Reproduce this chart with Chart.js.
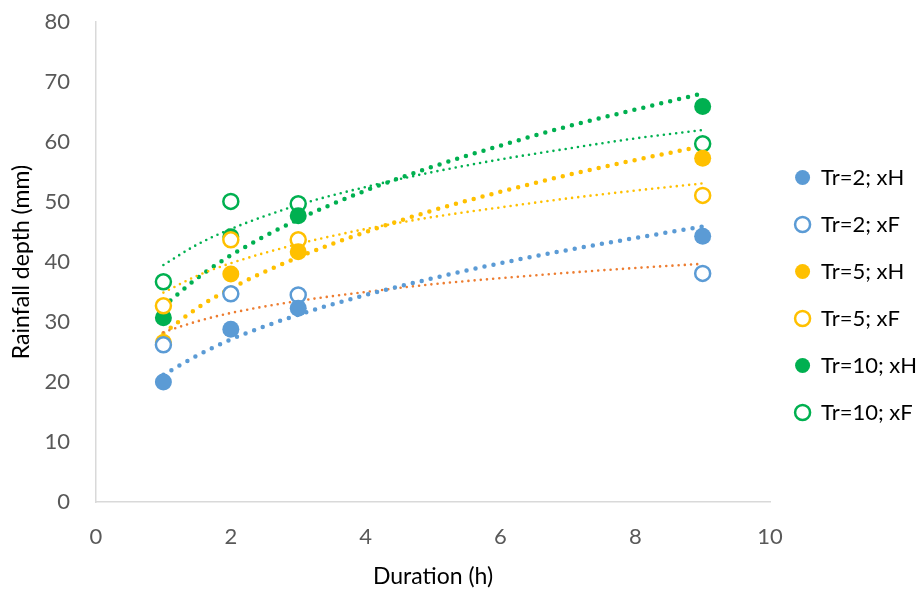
<!DOCTYPE html>
<html>
<head>
<meta charset="utf-8">
<script src="https://cdn.jsdelivr.net/npm/chart.js@4.4.1/dist/chart.umd.min.js"></script>
<style>
html,body{margin:0;padding:0;background:#fff;}
#wrap{width:919px;height:590px;}
</style>
</head>
<body>
<div id="wrap"><canvas id="c" width="919" height="590"></canvas></div>
<script>
// Durations (h)
const durations = [1, 2, 3, 9];
// Observed rainfall depths (mm)
const tr2xH  = [20.0, 28.8, 32.3, 44.3];
const tr2xF  = [26.2, 34.7, 34.5, 38.1];
const tr5xH  = [26.6, 38.0, 41.7, 57.3];
const tr5xF  = [32.7, 43.7, 43.7, 51.1];
const tr10xH = [30.7, 44.2, 47.7, 65.9];
const tr10xF = [36.7, 50.1, 49.7, 59.7];
const seriesNames = ["Tr=2; xH", "Tr=2; xF", "Tr=5; xH", "Tr=5; xF", "Tr=10; xH", "Tr=10; xF"];

// Trendline curves
const trendX     = [1, 1.5, 2, 3, 4, 5, 6, 7, 8, 9];
const trend2xH   = [21.2, 24.4, 27.1, 31.2, 34.5, 37.3, 39.8, 42.0, 44.0, 45.9];
const trend2xF   = [28.3, 30.1, 31.5, 33.5, 35.0, 36.3, 37.3, 38.2, 39.0, 39.7];
const trend5xH   = [28.1, 32.3, 35.6, 40.8, 45.0, 48.6, 51.7, 54.5, 57.0, 59.3];
const trend5xF   = [34.9, 37.7, 39.8, 43.0, 45.5, 47.5, 49.1, 50.6, 51.9, 53.1];
const trend10xH  = [32.6, 37.3, 41.1, 47.1, 51.9, 55.9, 59.4, 62.6, 65.4, 68.1];
const trend10xF  = [39.5, 42.9, 45.5, 49.5, 52.5, 55.0, 57.1, 58.9, 60.6, 62.0];

// Axis ticks
const xTicks = [0, 2, 4, 6, 8, 10];
const yTicks = [0, 10, 20, 30, 40, 50, 60, 70, 80];

const BLUE = '#5B9BD5', ORANGE = '#ED7D31', GOLD = '#FFC000', GREEN = '#00B050';

function pts(xs, ys){ return xs.map((x,i)=>({x:x, y:ys[i]})); }

function scatterSet(label, ys, color, filled){
  return {
    type:'scatter', label:label, data:pts(durations, ys),
    backgroundColor: filled ? color : '#ffffff',
    borderColor: color,
    borderWidth: filled ? 0 : 2.5,
    pointRadius: filled ? 8.5 : 7.5,
    pointHoverRadius: filled ? 8.5 : 7.5,
    pointStyle:'circle', showLine:false
  };
}
function trendSet(ys, color, thick){
  return {
    type:'line', label:'trend', isTrend:true, data:pts(trendX, ys),
    borderColor: color, backgroundColor: color,
    borderWidth: thick ? 4.5 : 2.6,
    borderDash: thick ? [0, 9.2] : [0, 6.2],
    borderCapStyle: 'round',
    pointRadius:0, pointHoverRadius:0, fill:false,
    cubicInterpolationMode:'monotone'
  };
}

const datasets = [
  scatterSet(seriesNames[0], tr2xH, BLUE, true),
  scatterSet(seriesNames[1], tr2xF, BLUE, false),
  scatterSet(seriesNames[2], tr5xH, GOLD, true),
  scatterSet(seriesNames[3], tr5xF, GOLD, false),
  scatterSet(seriesNames[4], tr10xH, GREEN, true),
  scatterSet(seriesNames[5], tr10xF, GREEN, false),
  trendSet(trend2xH, BLUE, true),
  trendSet(trend2xF, ORANGE, false),
  trendSet(trend5xH, GOLD, true),
  trendSet(trend5xF, GOLD, false),
  trendSet(trend10xH, GREEN, true),
  trendSet(trend10xF, GREEN, false)
];

const FONT = "Lato, 'Open Sans', sans-serif";

new Chart(document.getElementById('c'), {
  type:'scatter',
  data:{datasets:datasets},
  options:{
    responsive:false, animation:false,
    layout:{autoPadding:false, padding:{left:0, right:-8, top:0, bottom:0}},
    plugins:{
      tooltip:{enabled:false},
      legend:{
        position:'right',
        labels:{
          filter:(item, data)=> !data.datasets[item.datasetIndex].isTrend,
          usePointStyle:true, pointStyle:'circle',
          pointStyleWidth:15, boxWidth:15, boxHeight:10.6,
          padding:25,
          color:'#000000',
          font:{family:FONT, size:22}
        }
      }
    },
    scales:{
      x:{
        type:'linear', min:0, max:10,
        afterBuildTicks:(s)=>{ s.ticks = xTicks.map(v=>({value:v})); },
        afterFit:(s)=>{ s.height = 88; },
        grid:{display:false, drawTicks:false},
        border:{display:true, color:'#D9D9D9', width:1.5},
        ticks:{color:'#595959', font:{family:FONT, size:22}, padding:22},
        title:{display:true, text:'Duration (h)', color:'#000000', font:{family:FONT, size:23}, padding:{top:0,bottom:0}}
      },
      y:{
        type:'linear', min:0, max:80,
        afterBuildTicks:(s)=>{ s.ticks = yTicks.map(v=>({value:v})); },
        afterFit:(s)=>{ s.width = 96; s.paddingTop = 22; s.paddingBottom = 0; },
        grid:{display:false, drawTicks:false},
        border:{display:true, color:'#D9D9D9', width:1.5},
        ticks:{color:'#595959', font:{family:FONT, size:22}, padding:26},
        title:{display:true, text:'Rainfall depth (mm)', color:'#000000', font:{family:FONT, size:23}, padding:{top:8,bottom:0}}
      }
    }
  }
});
</script>
</body>
</html>
